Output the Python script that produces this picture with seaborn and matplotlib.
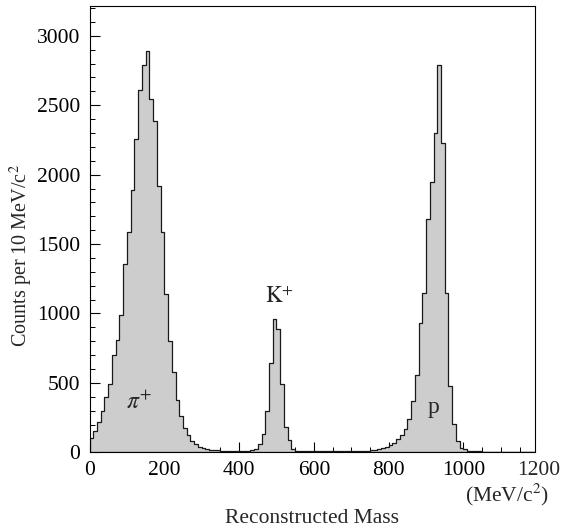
import numpy as np
import pandas as pd
import matplotlib
matplotlib.use("Agg")
import matplotlib.pyplot as plt
from matplotlib.ticker import MultipleLocator
import seaborn as sns

# ---- data: counts per 10 MeV/c^2 bin ----
bin_width = 10
pion_counts = [100, 150, 215, 295, 395, 490, 700, 810, 990, 1360, 1590, 1890, 2260, 2610, 2790, 2890,
               2545, 2390, 1915, 1590, 1140, 800, 575, 380, 260, 178, 128, 78, 58, 41, 28, 22]          # 0-320
gap1_counts = [20, 17, 14, 12, 11, 10, 10, 9, 9, 10, 11, 14]                                             # 320-440
kaon_counts = [22, 58, 129, 300, 640, 960, 885, 489, 180, 90, 25, 12]                                    # 440-560
gap2_counts = [9, 8, 8, 7, 7, 8, 8, 7, 7, 8, 8, 9, 9, 10, 10, 11, 11, 12]                                # 560-740
proton_counts = [12, 15, 20, 25, 34, 41, 53, 70, 94, 125, 165, 240, 370, 560, 930, 1150, 1680, 1950,
                 2300, 2790, 2230, 1150, 480, 205, 80, 34, 22, 12]                                       # 740-1020
tail_counts = [8, 7, 6, 5, 5, 5, 4, 4, 4, 4, 3, 3, 3, 3, 3, 3, 3]                                        # 1020-1190

x_ticks = [0, 200, 400, 600, 800, 1000]
y_ticks = [0, 500, 1000, 1500, 2000, 2500, 3000]
labels = {"pi": r"$\pi^{+}$", "K": r"$\mathrm{K}^{+}$", "p": "p"}

counts = np.concatenate([pion_counts, gap1_counts, kaon_counts, gap2_counts, proton_counts, tail_counts])
n_bins = len(counts)
df = pd.DataFrame({"mass": np.arange(n_bins) * bin_width + bin_width / 2, "count": counts})

# ---- style ----
sns.set_style("ticks")
plt.rcParams["font.family"] = ["Liberation Serif", "DejaVu Serif"]
plt.rcParams["mathtext.fontset"] = "stix"

W, H = 569, 531
fig = plt.figure(figsize=(W / 100, H / 100), dpi=100)
left, right, top, bottom = 89.5, 534.5, 6, 452.3
ax = fig.add_axes([left / W, 1 - bottom / H, (right - left) / W, (bottom - top) / H])

sns.histplot(data=df, x="mass", weights="count", binwidth=bin_width, binrange=(0, n_bins * bin_width),
             element="step", fill=True, color="#cdcdcd", edgecolor="#1a1a1a", linewidth=0.9,
             alpha=1, ax=ax)

ax.set_xlim(0, 1190)
ax.set_ylim(0, 3215)
ax.set_xticks(x_ticks)
ax.set_yticks(y_ticks)
ax.xaxis.set_minor_locator(MultipleLocator(50))
ax.yaxis.set_minor_locator(MultipleLocator(100))
ax.tick_params(which="both", direction="in", top=False, right=False, colors="black")
ax.tick_params(which="major", length=7, width=0.8, labelsize=15.5)
ax.tick_params(which="minor", length=3.5, width=0.7)
ax.tick_params(axis="x", pad=6)
ax.tick_params(axis="y", pad=6.5)
for s in ax.spines.values():
    s.set_visible(True)
    s.set_linewidth(0.8)
    s.set_color("black")

# tick label just beyond the frame
ax.annotate("1200", xy=(1200, 0), xycoords=("data", "axes fraction"), xytext=(0, -6),
            textcoords="offset points", ha="center", va="top", fontsize=15.5, annotation_clip=False)

ax.set_xlabel("Reconstructed Mass", fontsize=15.5)
ax.xaxis.label.set_va("center")
ax.xaxis.set_label_coords(0.5, -0.148)
ax.set_ylabel("Counts per 10 MeV/c$^{2}$", fontsize=14.5)
ax.yaxis.label.set_va("center")
ax.yaxis.set_label_coords(-0.154, 0.44)
ax.text(0.939, -0.096, "(MeV/c$^{2}$)", transform=ax.transAxes, ha="center", va="center", fontsize=15.5)

ax.text(133, 312, labels["pi"], fontsize=17, ha="center", va="baseline")
ax.text(507, 1074, labels["K"], fontsize=16.5, ha="center", va="baseline")
ax.text(921, 283, labels["p"], fontsize=17, ha="center", va="baseline")

fig.savefig("out.png", dpi=100)
